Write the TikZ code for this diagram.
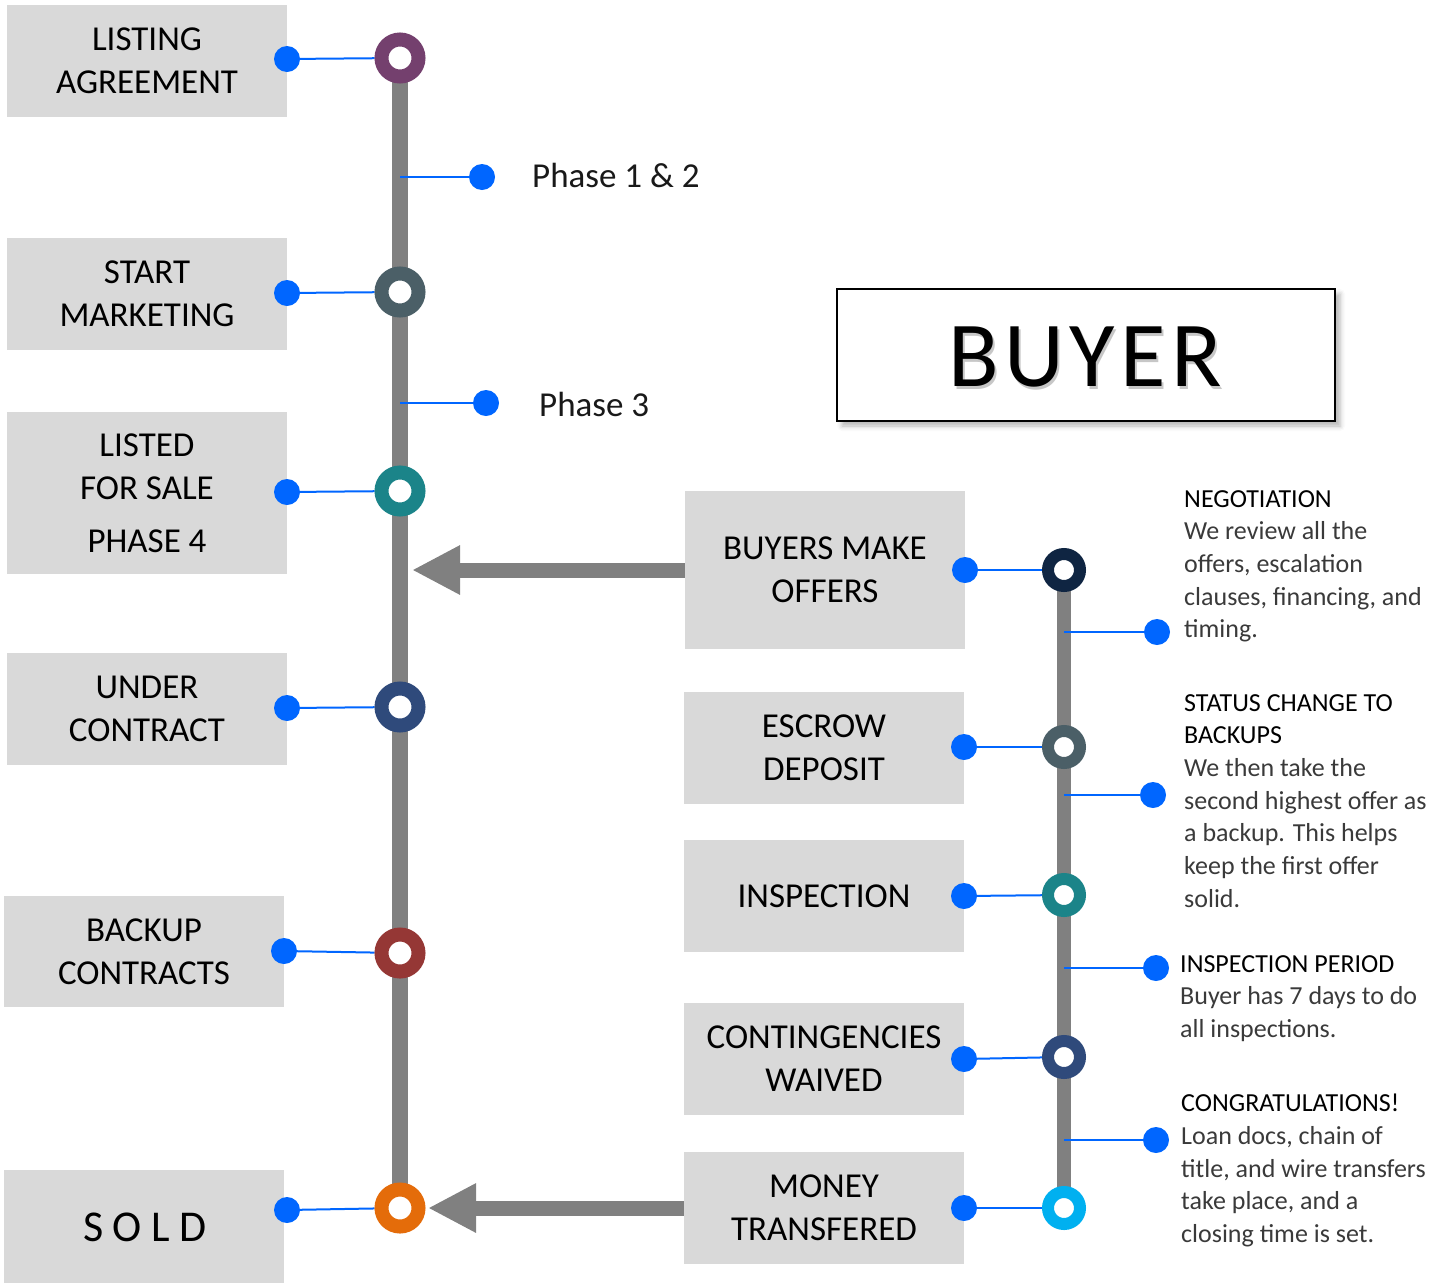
\documentclass[tikz,border=0pt]{standalone}
\usepackage{fontspec}
\setmainfont{Carlito}
\usetikzlibrary{arrows.meta,shadows.blur}
\pgfdeclarelayer{background}
\pgfsetlayers{background,main}
\definecolor{boxgray}{HTML}{D9D9D9}
\definecolor{dotblue}{HTML}{0066FF}
\definecolor{linegray}{HTML}{808080}
\definecolor{bodygray}{HTML}{3A3A3A}
\definecolor{cplum}{HTML}{74406E}
\definecolor{cslate}{HTML}{4B5F67}
\definecolor{cteal}{HTML}{1B8489}
\definecolor{cnavy}{HTML}{2F4A7B}
\definecolor{cred}{HTML}{953735}
\definecolor{corange}{HTML}{E46C0A}
\definecolor{cdark}{HTML}{0F2542}
\definecolor{clight}{HTML}{00B0F0}
\begin{document}
\begin{tikzpicture}[x=1pt,y=-1pt,
  graybox/.style={fill=boxgray, minimum width=280pt, minimum height=112pt, inner sep=0pt, align=center, font=\fontsize{35}{43}\selectfont, text=black},
  bdot/.style={circle, fill=dotblue, minimum size=26pt, inner sep=0pt},
  ringL/.style={circle, draw=#1, line width=14pt, fill=white, minimum size=37pt, inner sep=0pt},
  ringR/.style={circle, draw=#1, line width=12pt, fill=white, minimum size=32pt, inner sep=0pt},
  bluelink/.style={draw=dotblue, line width=2pt},
  spineL/.style={draw=linegray, line width=16pt},
  spineR/.style={draw=linegray, line width=14pt},
  bigarrow/.style={draw=linegray, line width=15pt, -{Triangle[length=48pt,width=46pt]}},
  desctext/.style={anchor=north west, inner sep=0pt, align=left, font=\fontsize{26}{32.7}\selectfont, text=bodygray},
  phasetext/.style={anchor=west, inner sep=0pt, font=\fontsize{35}{42}\selectfont, text=black!90}
]
\useasboundingbox (0,0) rectangle (1437,1283);

% left boxes
\node[graybox] (b1) at (147,61) {LISTING\\AGREEMENT};
\node[graybox] (b2) at (147,294) {START\\MARKETING};
\node[graybox, minimum height=162pt] (b3) at (147,493) {LISTED\\FOR SALE\\[10pt]PHASE 4};
\node[graybox] (b4) at (147,709) {UNDER\\CONTRACT};
\node[graybox, minimum height=111pt] (b5) at (144,951.5) {BACKUP\\CONTRACTS};
\node[graybox, minimum height=113pt] (b6) at (144,1226.5) {};
\node[inner sep=0pt, font=\fontsize{44}{50}\selectfont\addfontfeature{LetterSpace=22}] (soldtxt) at (145,1227) {SOLD};

% left rings
\node[ringL=cplum] (c1) at (400,58) {};
\node[ringL=cslate] (c2) at (400,292) {};
\node[ringL=cteal] (c3) at (400,491) {};
\node[ringL=cnavy] (c4) at (400,707) {};
\node[ringL=cred] (c5) at (400,953) {};
\node[ringL=corange] (c6) at (400,1208) {};

% left dots
\node[bdot] (d1) at (287,59) {};
\node[bdot] (d2) at (287,293) {};
\node[bdot] (d3) at (287,492) {};
\node[bdot] (d4) at (287,708) {};
\node[bdot] (d5) at (284,951) {};
\node[bdot] (d6) at (287,1210) {};

% phases
\coordinate (p1t) at (400,177);
\coordinate (p2t) at (400,403);
\node[bdot] (p1) at (482,177) {};
\node[bdot] (p2) at (486,403) {};
\node[phasetext] (p1txt) at (532,175) {Phase 1 \& 2};
\node[phasetext] (p2txt) at (539,404) {Phase 3};

% buyer title
\node[draw=black, line width=2pt, fill=white, minimum width=498pt, minimum height=132pt,
  blur shadow={shadow xshift=5pt, shadow yshift=-5pt, shadow blur radius=5pt, shadow opacity=30}] (buyerbox) at (1086,355) {};
\node[inner sep=0pt, text=black!22, font=\fontsize{93}{100}\selectfont\addfontfeature{LetterSpace=6}] (buyershadow) at (1087,360) {BUYER};
\node[inner sep=0pt, text=black, font=\fontsize{93}{100}\selectfont\addfontfeature{LetterSpace=6}] (buyertxt) at (1085,357) {BUYER};

% right boxes
\node[graybox, minimum height=158pt] (r1b) at (825,570) {BUYERS MAKE\\OFFERS};
\node[graybox] (r2b) at (824,748) {ESCROW\\DEPOSIT};
\node[graybox] (r3b) at (824,896) {INSPECTION};
\node[graybox] (r4b) at (824,1059) {CONTINGENCIES\\WAIVED};
\node[graybox] (r5b) at (824,1208) {MONEY\\TRANSFERED};

% right rings
\node[ringR=cdark] (q1) at (1064,570) {};
\node[ringR=cslate] (q2) at (1064,747) {};
\node[ringR=cteal] (q3) at (1064,895) {};
\node[ringR=cnavy] (q4) at (1064,1057) {};
\node[ringR=clight] (q5) at (1064,1208) {};

% right box dots
\node[bdot] (e1) at (965,570) {};
\node[bdot] (e2) at (964,747) {};
\node[bdot] (e3) at (964,896) {};
\node[bdot] (e4) at (964,1059) {};
\node[bdot] (e5) at (964,1208) {};

% description dots
\coordinate (t1) at (1064,632);
\coordinate (t2) at (1064,795);
\coordinate (t3) at (1064,968);
\coordinate (t4) at (1064,1140);
\node[bdot] (f1) at (1157,632) {};
\node[bdot] (f2) at (1153,795) {};
\node[bdot] (f3) at (1156,968) {};
\node[bdot] (f4) at (1156,1140) {};

% descriptions
\node[desctext] (n1) at (1184,490) {\textcolor{black}{NEGOTIATION}\\We review all the\\offers, escalation\\clauses, financing, and\\timing.};
\node[desctext] (n2) at (1184,694) {\textcolor{black}{STATUS CHANGE TO}\\\textcolor{black}{BACKUPS}\\We then take the\\second highest offer as\\a backup. This helps\\keep the first offer\\solid.};
\node[desctext] (n3) at (1180,955) {\textcolor{black}{INSPECTION PERIOD}\\Buyer has 7 days to do\\all inspections.};
\node[desctext] (n4) at (1181,1094) {\textcolor{black}{CONGRATULATIONS!}\\Loan docs, chain of\\title, and wire transfers\\take place, and a\\closing time is set.};

% arrows
\coordinate (a1) at (412,570);
\coordinate (a2) at (428,1208);
\draw[bigarrow] (r1b.west) -- (a1);
\draw[bigarrow] (r5b.west) -- (a2);

\begin{pgfonlayer}{background}
  \draw[spineL] (c1.center) -- (c6.center);
  \draw[spineR] (q1.center) -- (q5.center);
  \draw[bluelink] (d1) -- (c1);
  \draw[bluelink] (d2) -- (c2);
  \draw[bluelink] (d3) -- (c3);
  \draw[bluelink] (d4) -- (c4);
  \draw[bluelink] (d5) -- (c5);
  \draw[bluelink] (d6) -- (c6);
  \draw[bluelink] (p1t) -- (p1);
  \draw[bluelink] (p2t) -- (p2);
  \draw[bluelink] (e1) -- (q1);
  \draw[bluelink] (e2) -- (q2);
  \draw[bluelink] (e3) -- (q3);
  \draw[bluelink] (e4) -- (q4);
  \draw[bluelink] (e5) -- (q5);
  \draw[bluelink] (t1) -- (f1);
  \draw[bluelink] (t2) -- (f2);
  \draw[bluelink] (t3) -- (f3);
  \draw[bluelink] (t4) -- (f4);
\end{pgfonlayer}
\end{tikzpicture}
\end{document}
